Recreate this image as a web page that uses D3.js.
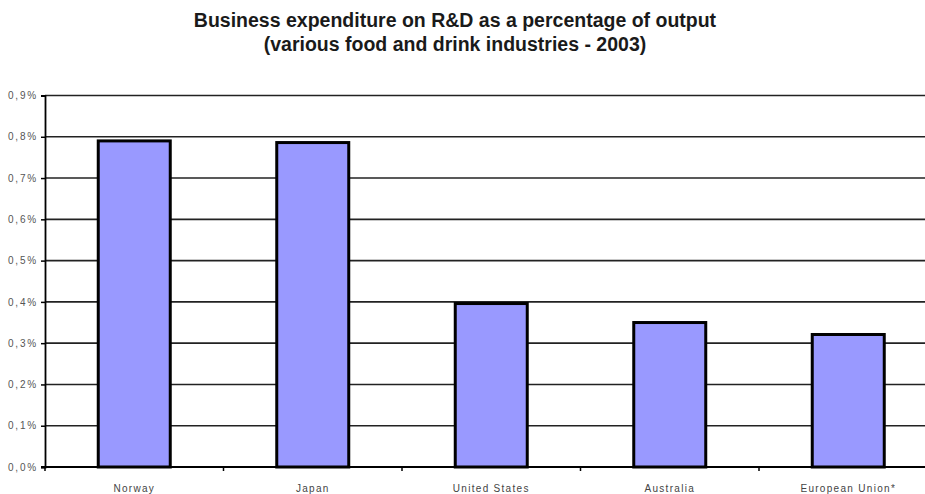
<!DOCTYPE html>
<html lang="en">
<head>
<meta charset="UTF-8">
<title>Business expenditure on R&amp;D</title>
<script src="https://d3js.org/d3.v7.min.js"></script>
<style>
  body { margin: 0; background: #fff; }
  svg { display: block; font-family: "Liberation Sans", Arial, sans-serif; }
</style>
</head>
<body>
<svg id="chart" width="925" height="494"></svg>
<script>
  // data
  var countries = ["Norway", "Japan", "United States", "Australia", "European Union*"];
  var values = [0.79, 0.786, 0.396, 0.35, 0.321];
  var yTicks = [0, 0.1, 0.2, 0.3, 0.4, 0.5, 0.6, 0.7, 0.8, 0.9];
  var titleLines = ["Business expenditure on R&D as a percentage of output",
                    "(various food and drink industries - 2003)"];

  var svg = d3.select("#chart");

  // plot area runs past the right edge (the original is cropped)
  var plotLeft = 45, plotRight = 937.5, plotTop = 95.5, plotBottom = 467;

  var x = d3.scaleBand()
    .domain(countries)
    .range([plotLeft, plotRight])
    .paddingInner(0)
    .paddingOuter(0);

  var y = d3.scaleLinear()
    .domain([0, 0.9])
    .range([plotBottom, plotTop]);

  // title
  svg.append("g")
    .selectAll("text")
    .data(titleLines)
    .enter().append("text")
      .attr("x", 455)
      .attr("y", function(d, i) { return 27 + i * 24; })
      .attr("text-anchor", "middle")
      .style("font-size", "19.5px")
      .style("font-weight", "bold")
      .style("fill", "#1a1a1a")
      .text(function(d) { return d; });

  // gridlines
  svg.append("g")
    .selectAll("line")
    .data(yTicks.slice(1))
    .enter().append("line")
      .attr("x1", plotLeft)
      .attr("x2", 925)
      .attr("y1", function(d) { return y(d); })
      .attr("y2", function(d) { return y(d); })
      .style("stroke", "#222")
      .style("stroke-width", 1.6);

  // bars
  var barW = 72;
  svg.append("g")
    .selectAll("rect")
    .data(values)
    .enter().append("rect")
      .attr("x", function(d, i) { return x(countries[i]) + x.bandwidth() / 2 - barW / 2; })
      .attr("y", function(d) { return y(d); })
      .attr("width", barW)
      .attr("height", function(d) { return plotBottom - y(d); })
      .style("fill", "#9999ff")
      .style("stroke", "#000")
      .style("stroke-width", 3);

  // y axis
  var yAxis = svg.append("g")
    .attr("transform", "translate(" + plotLeft + ",0)")
    .call(d3.axisLeft(y)
      .tickValues(yTicks)
      .tickSize(4)
      .tickFormat(function(d) { return d3.format(".1f")(d).replace(".", ",") + "%"; }));
  yAxis.select(".domain").style("stroke", "#000").style("stroke-width", 1.8);
  yAxis.selectAll(".tick line").style("stroke", "#000").style("stroke-width", 1.5);
  yAxis.selectAll("text")
    .attr("x", -7)
    .style("font-size", "10px")
    .style("letter-spacing", "1.8px")
    .style("fill", "#555")
    .style("font-family", "'Liberation Sans', Arial, sans-serif");

  // x axis
  var xAxis = svg.append("g")
    .attr("transform", "translate(0," + plotBottom + ")");
  xAxis.append("line")
    .attr("x1", plotLeft - 4)
    .attr("x2", 925)
    .style("stroke", "#000")
    .style("stroke-width", 1.8);
  var bounds = d3.range(countries.length + 1).map(function(i) { return plotLeft + i * x.bandwidth(); });
  xAxis.selectAll(".sep")
    .data(bounds)
    .enter().append("line")
      .attr("class", "sep")
      .attr("x1", function(d) { return d; })
      .attr("x2", function(d) { return d; })
      .attr("y1", 0)
      .attr("y2", 4)
      .style("stroke", "#000")
      .style("stroke-width", 1.5);
  xAxis.selectAll(".lbl")
    .data(countries)
    .enter().append("text")
      .attr("class", "lbl")
      .attr("x", function(d) { return x(d) + x.bandwidth() / 2; })
      .attr("y", 25)
      .attr("text-anchor", "middle")
      .style("font-size", "10px")
      .style("letter-spacing", "1.3px")
      .style("fill", "#444")
      .text(function(d) { return d; });
</script>
</body>
</html>
